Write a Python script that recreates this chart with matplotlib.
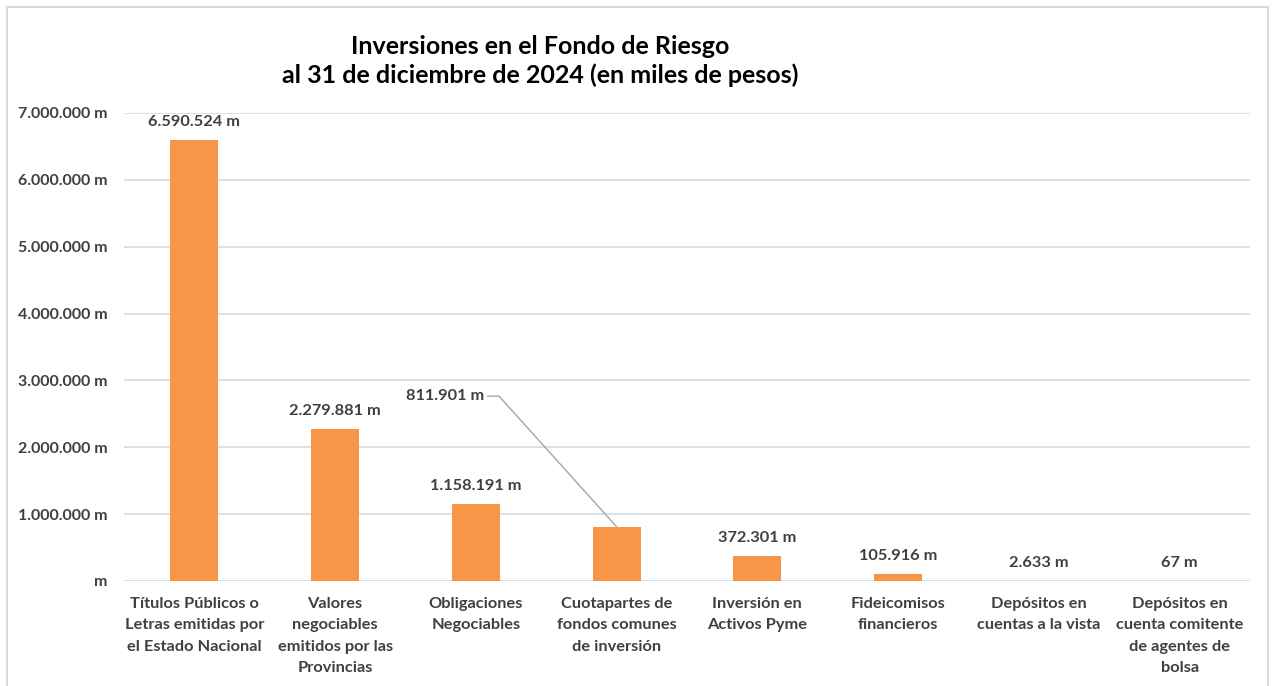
import matplotlib.pyplot as plt
from matplotlib.patches import Rectangle

categories = [
    'Títulos Públicos o\nLetras emitidas por\nel Estado Nacional',
    'Valores\nnegociables\nemitidos por las\nProvincias',
    'Obligaciones\nNegociables',
    'Cuotapartes de\nfondos comunes\nde inversión',
    'Inversión en\nActivos Pyme',
    'Fideicomisos\nfinancieros',
    'Depósitos en\ncuentas a la vista',
    'Depósitos en\ncuenta comitente\nde agentes de\nbolsa',
]
values = [6590524, 2279881, 1158191, 811901, 372301, 105916, 2633, 67]
value_labels = ['6.590.524 m', '2.279.881 m', '1.158.191 m', '811.901 m',
                '372.301 m', '105.916 m', '2.633 m', '67 m']
yticks = [0, 1000000, 2000000, 3000000, 4000000, 5000000, 6000000, 7000000]
ytick_labels = ['m', '1.000.000 m', '2.000.000 m', '3.000.000 m',
                '4.000.000 m', '5.000.000 m', '6.000.000 m', '7.000.000 m']

plt.rcParams['font.family'] = ['Lato', 'DejaVu Sans']
txt_col = '#404040'

fig = plt.figure(figsize=(12.77, 6.86), dpi=100)
ax = fig.add_axes([124 / 1277, 105 / 686, 1126 / 1277, 468 / 686])

x = list(range(len(categories)))
ax.bar(x, values, width=0.34, color='#F79646', zorder=2)
ax.set_xlim(-0.5, len(categories) - 0.5)
ax.set_ylim(0, 7000000)

ax.set_yticks(yticks)
ax.set_yticklabels(ytick_labels, fontsize=11.5, fontweight='bold', color=txt_col)
ax.set_xticks(x)
ax.set_xticklabels(categories, fontsize=11.8, fontweight='bold', color=txt_col,
                   linespacing=1.68, va='top')
ax.tick_params(axis='y', length=0, pad=12)
ax.tick_params(axis='x', length=0, pad=11.5)
ax.grid(axis='y', color='#d9d9d9', linewidth=1.2, zorder=0)
for s in ax.spines.values():
    s.set_visible(False)

# data labels, the 4th one is moved out with a leader line
for i, (v, lab) in enumerate(zip(values, value_labels)):
    if i == 3:
        ax.annotate(lab, xy=(i, v), xytext=(-95, 94), textcoords='offset points',
                    ha='right', va='center', fontsize=11.8, fontweight='bold',
                    color=txt_col,
                    arrowprops=dict(arrowstyle='-', color='#a6a6a6', lw=1,
                                    relpos=(1, 0.5), shrinkA=0, shrinkB=0,
                                    connectionstyle='angle,angleA=0,angleB=-48,rad=0'))
    else:
        ax.annotate(lab, xy=(i, v), xytext=(0, 13), textcoords='offset points',
                    ha='center', va='center', fontsize=11.8, fontweight='bold',
                    color=txt_col)

fig.text(540 / 1277, 1 - 61 / 686,
         'Inversiones en el Fondo de Riesgo\nal 31 de diciembre de 2024 (en miles de pesos)',
         ha='center', va='center', fontsize=18, fontweight='bold',
         color='black', linespacing=1.3)

fig.patches.append(Rectangle((7 / 1277, -0.02), 1261 / 1277, 1.02 - 7 / 686,
                             transform=fig.transFigure, fill=False,
                             edgecolor='#d9d9d9', linewidth=1.5))

fig.savefig('out.png', dpi=100)
